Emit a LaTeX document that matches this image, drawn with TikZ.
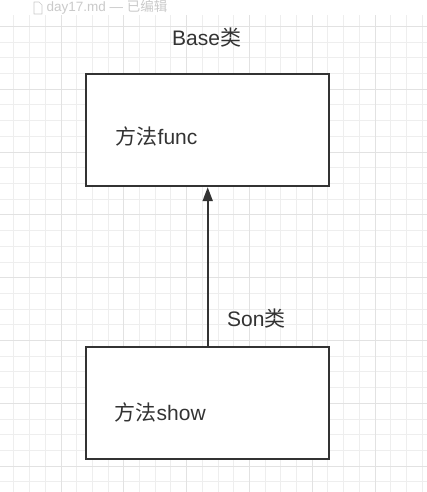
\documentclass[tikz,border=0pt]{standalone}
\usepackage{fontspec}
\setmainfont{Liberation Sans}
\newfontfamily\cjk{Noto Sans CJK SC}
\usetikzlibrary{arrows.meta}
\definecolor{gridminor}{HTML}{EEEEEE}
\definecolor{gridmajor}{HTML}{E2E2E2}
\definecolor{ink}{HTML}{333333}
\definecolor{titlegray}{HTML}{CACACA}
\tikzset{
  classbox/.style={draw=ink, line width=2pt, fill=white, minimum width=243.5pt,
    minimum height=112pt, inner sep=0pt},
  label21/.style={anchor=base west, inner sep=0pt, font=\fontsize{21}{24}\selectfont, text=ink},
  inherit/.style={draw=ink, line width=2pt, -{Triangle[length=14pt, width=10pt]}},
}
\begin{document}
\begin{tikzpicture}[x=1pt, y=-1pt]
  \useasboundingbox (0,0) rectangle (427,492);
  \fill[white] (0,0) rectangle (427,492);
  % background grid: minor every 15.7, major every fourth line
  \begin{scope}
    \clip (0,15) rectangle (427,492);
    \foreach \i in {-4,...,24} {
      \pgfmathsetmacro{\gx}{61+\i*15.7}
      \draw[gridminor, line width=1pt] (\gx,15) -- (\gx,492);
    }
    \foreach \i in {-5,...,26} {
      \pgfmathsetmacro{\gy}{89.3+\i*15.7}
      \draw[gridminor, line width=1pt] (0,\gy) -- (427,\gy);
    }
    \foreach \i in {-1,...,6} {
      \pgfmathsetmacro{\gx}{61+\i*62.8}
      \draw[gridmajor, line width=1pt] (\gx,15) -- (\gx,492);
    }
    \foreach \i in {-1,...,7} {
      \pgfmathsetmacro{\gy}{89.3+\i*62.8}
      \draw[gridmajor, line width=1pt] (0,\gy) -- (427,\gy);
    }
  \end{scope}
  \fill[white] (0,0) rectangle (427,15);
  % window title
  \draw[titlegray, line width=0.7pt, line join=round]
    (34,2) -- (39,2) -- (42,5) -- (42,14) -- (34,14) -- cycle;
  \node[anchor=base west, inner sep=0pt, text=titlegray, font=\fontsize{13.5}{15}\selectfont]
    (title) at (46.5,12) {day17.md — {\cjk 已编辑}};

  % classes
  \node[classbox] (base) at (207.7,130.2) {};
  \node[classbox] (son) at (207.7,403.3) {};
  \node[label21] (basefn) at (115.5,144.5) {{\cjk 方法}func};
  \node[label21] (sonfn) at (114.5,420.5) {{\cjk 方法}show};
  \node[label21] (basename) at (172,46) {Base{\cjk 类}};
  \node[label21] (sonname) at (227,326.5) {Son{\cjk 类}};

  % inheritance arrow
  \draw[inherit] (son.north) -- (base.south);
\end{tikzpicture}
\end{document}
